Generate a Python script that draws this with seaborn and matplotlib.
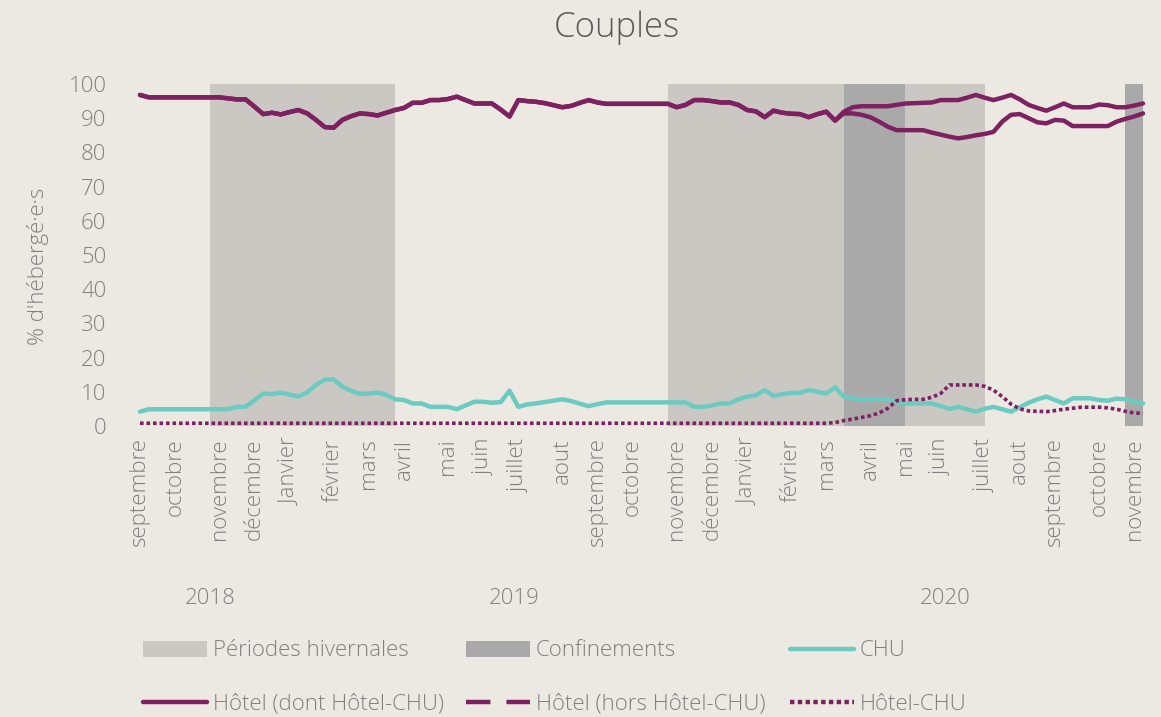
import matplotlib
matplotlib.use("Agg")
import numpy as np
import matplotlib.pyplot as plt
import seaborn as sns
from matplotlib.patches import Patch
from matplotlib.lines import Line2D
from matplotlib.transforms import blended_transform_factory

# ---------------- data (weekly points, Sept 2018 -> Nov 2020) ----------------
hotel_dont = [96.8, 96.1, 96.1, 96.1, 96.1, 96.1, 96.1, 96.1, 96.1, 96.1,
              95.8, 95.5, 95.5, 93.4, 91.2, 91.6, 91.1, 91.8, 92.4, 91.4,
              89.5, 87.4, 87.2, 89.5, 90.6, 91.4, 91.2, 90.8, 91.6, 92.4,
              93.0, 94.5, 94.5, 95.3, 95.3, 95.6, 96.3, 95.3, 94.3, 94.3,
              94.3, 92.5, 90.5, 95.3, 95.0, 94.8, 94.4, 93.8, 93.2, 93.6,
              94.5, 95.3, 94.6, 94.2, 94.2, 94.2, 94.2, 94.2, 94.2, 94.2,
              94.2, 93.2, 93.9, 95.3, 95.3, 95.0, 94.6, 94.6, 93.9, 92.4,
              92.0, 90.3, 92.2, 91.6, 91.3, 91.2, 90.3, 91.2, 91.9, 89.3,
              91.9, 93.2, 93.5, 93.5, 93.5, 93.5, 93.9, 94.3, 94.4, 94.5,
              94.6, 95.3, 95.3, 95.3, 96.0, 96.8, 96.0, 95.3, 96.0, 96.8,
              95.5, 93.9, 93.0, 92.2, 93.2, 94.3, 93.2, 93.2, 93.2, 94.0,
              93.8, 93.2, 93.2, 93.7, 94.3]

hotel_hors = [96.8, 96.1, 96.1, 96.1, 96.1, 96.1, 96.1, 96.1, 96.1, 96.1,
              95.8, 95.5, 95.5, 93.4, 91.2, 91.6, 91.1, 91.8, 92.4, 91.4,
              89.5, 87.4, 87.2, 89.5, 90.6, 91.4, 91.2, 90.8, 91.6, 92.4,
              93.0, 94.5, 94.5, 95.3, 95.3, 95.6, 96.3, 95.3, 94.3, 94.3,
              94.3, 92.5, 90.5, 95.3, 95.0, 94.8, 94.4, 93.8, 93.2, 93.6,
              94.5, 95.3, 94.6, 94.2, 94.2, 94.2, 94.2, 94.2, 94.2, 94.2,
              94.2, 93.2, 93.9, 95.3, 95.3, 95.0, 94.6, 94.6, 93.9, 92.4,
              92.0, 90.3, 92.2, 91.6, 91.3, 91.2, 90.3, 91.2, 91.9, 89.3,
              91.4, 91.4, 91.0, 90.3, 89.0, 87.5, 86.5, 86.5, 86.5, 86.5,
              85.8, 85.2, 84.6, 84.1, 84.5, 85.0, 85.4, 86.0, 89.0, 91.0,
              91.2, 90.0, 88.8, 88.5, 89.5, 89.3, 87.7, 87.7, 87.7, 87.7,
              87.7, 89.0, 89.8, 90.5, 91.4]

chu = [4.2, 4.9, 4.9, 4.9, 4.9, 4.9, 4.9, 4.9, 4.9, 4.9,
       4.9, 5.6, 5.6, 7.5, 9.5, 9.3, 9.8, 9.2, 8.6, 9.8,
       12.0, 13.6, 13.6, 11.5, 10.3, 9.4, 9.5, 9.8, 9.1, 7.8,
       7.6, 6.6, 6.6, 5.6, 5.6, 5.6, 4.9, 6.0, 7.1, 7.1,
       6.8, 7.0, 10.3, 5.6, 6.3, 6.6, 7.0, 7.4, 7.8, 7.3,
       6.5, 5.8, 6.4, 6.9, 6.9, 6.9, 6.9, 6.9, 6.9, 6.9,
       6.9, 6.9, 6.9, 5.6, 5.6, 6.0, 6.6, 6.6, 7.8, 8.6,
       9.0, 10.5, 8.8, 9.3, 9.7, 9.7, 10.5, 10.0, 9.5, 11.3,
       8.6, 8.0, 7.8, 7.8, 7.8, 7.8, 7.0, 6.6, 6.6, 6.6,
       6.6, 5.8, 5.0, 5.6, 4.9, 4.2, 5.0, 5.6, 4.9, 4.2,
       5.5, 6.8, 7.8, 8.6, 7.6, 6.6, 8.1, 8.1, 8.1, 7.6,
       7.4, 8.0, 7.8, 7.2, 6.6]

hotel_chu = [0.8, 0.8, 0.8, 0.8, 0.8, 0.8, 0.8, 0.8, 0.8, 0.8,
             0.8, 0.8, 0.8, 0.8, 0.8, 0.8, 0.8, 0.8, 0.8, 0.8,
             0.8, 0.8, 0.8, 0.8, 0.8, 0.8, 0.8, 0.8, 0.8, 0.8,
             0.8, 0.8, 0.8, 0.8, 0.8, 0.8, 0.8, 0.8, 0.8, 0.8,
             0.8, 0.8, 0.8, 0.8, 0.8, 0.8, 0.8, 0.8, 0.8, 0.8,
             0.8, 0.8, 0.8, 0.8, 0.8, 0.8, 0.8, 0.8, 0.8, 0.8,
             0.8, 0.8, 0.8, 0.8, 0.8, 0.8, 0.8, 0.8, 0.8, 0.8,
             0.8, 0.8, 0.8, 0.8, 0.8, 0.8, 0.8, 0.8, 0.8, 1.0,
             1.6, 2.0, 2.5, 3.0, 3.8, 5.2, 7.4, 7.7, 7.8, 7.8,
             8.4, 9.5, 12.0, 12.0, 12.0, 12.0, 11.6, 10.5, 8.6, 6.4,
             5.0, 4.4, 4.3, 4.2, 4.5, 4.9, 5.2, 5.5, 5.5, 5.5,
             5.3, 4.9, 4.3, 3.8, 3.7]

month_labels = ["septembre", "octobre", "novembre", "décembre", "Janvier", "février",
                "mars", "avril", "mai", "juin", "juillet", "aout", "septembre",
                "octobre", "novembre", "décembre", "Janvier", "février", "mars",
                "avril", "mai", "juin", "juillet", "aout", "septembre", "octobre",
                "novembre"]
month_weeks = [0, 4, 9, 13, 17, 22, 26, 30, 35, 39, 43, 48, 52, 56, 61, 65, 69,
               74, 78, 83, 87, 91, 96, 100, 104, 109, 113]

years = ["2018", "2019", "2020"]
year_start_weeks = [0, 17, 69]

winter_periods = [(8, 29), (60, 96)]
lockdowns = [(80, 87), (112, 114)]

# ---------------- style ----------------
BG = "#ECE8E2"
WINTER = "#CBC8C3"
LOCK = "#A9A9A9"
HOTEL = "#7E2160"
TEAL = "#6CCBC1"
GREY = "#808080"
TITLE = "#5A5A5A"

sns.set_theme(style="white")
plt.rcParams['font.family'] = ['Open Sans', 'DejaVu Sans']
plt.rcParams['font.weight'] = 'light'

FS = 16
W, H = 1161, 717
fig = plt.figure(figsize=(W / 100, H / 100), dpi=100, facecolor=BG)
ax = fig.add_axes([130 / W, 1 - 426 / H, (1150 - 130) / W, 342 / H])
ax.set_facecolor(BG)

for s, e in winter_periods:
    ax.axvspan(s, e, color=WINTER, lw=0, zorder=0)
for s, e in lockdowns:
    ax.axvspan(s, e, color=LOCK, lw=0, zorder=0.5)

weeks = np.arange(len(hotel_dont))
sns.lineplot(x=weeks, y=chu, ax=ax, color=TEAL, lw=3.2, zorder=3)
sns.lineplot(x=weeks, y=hotel_chu, ax=ax, color=HOTEL, lw=2.6,
             linestyle=(0, (1, 0.8)), zorder=4)
sns.lineplot(x=weeks, y=hotel_hors, ax=ax, color=HOTEL, lw=3.2, zorder=4)
sns.lineplot(x=weeks, y=hotel_dont, ax=ax, color=HOTEL, lw=3.2, zorder=4)

px_per_week = 8.8
ax.set_xlim(-10 / px_per_week, len(weeks) - 1 + 7 / px_per_week)
ax.set_ylim(0, 100)
ax.set_yticks(range(0, 101, 10))
ax.set_xticks(month_weeks)
ax.set_xticklabels(month_labels, rotation=90)
ax.tick_params(axis='y', length=0, pad=17, labelsize=FS, labelcolor=GREY)
ax.tick_params(axis='x', length=0, pad=9, labelsize=FS, labelcolor=GREY)
for sp in ax.spines.values():
    sp.set_visible(False)
ax.grid(False)
ax.set_xlabel("")
ax.set_ylabel("")

# year labels centred on each year's weeks
trans = blended_transform_factory(ax.transData, ax.transAxes)
bounds = year_start_weeks + [len(weeks)]
for k, yr in enumerate(years):
    xc = (bounds[k] + bounds[k + 1] - 1) / 2
    ax.text(xc, -0.503, yr, transform=trans, ha='center', va='center',
            fontsize=FS, color=GREY)

fig.text(38 / W, 1 - 266 / H, "% d'hébergé·e·s", rotation=90, ha='center',
         va='center', fontsize=FS, color=GREY)
fig.text(617 / W, 1 - 28 / H, "Couples", ha='center', va='center',
         fontsize=25, color=TITLE)

# legend: three columns, two rows
columns = [
    [(Patch(facecolor=WINTER, edgecolor='none'), "Périodes hivernales"),
     (Line2D([], [], color=HOTEL, lw=3.2), "Hôtel (dont Hôtel-CHU)")],
    [(Patch(facecolor=LOCK, edgecolor='none'), "Confinements"),
     (Line2D([], [], color=HOTEL, lw=3.2, linestyle=(0, (5.5, 3.6))), "Hôtel (hors Hôtel-CHU)")],
    [(Line2D([], [], color=TEAL, lw=3.2), "CHU"),
     (Line2D([], [], color=HOTEL, lw=3.2, linestyle=(0, (1, 0.75))), "Hôtel-CHU")],
]
col_x = [143, 466, 790]
for cx, col in zip(col_x, columns):
    hs, ls = zip(*col)
    fig.legend(hs, ls, loc='center left', bbox_to_anchor=(cx / W, 1 - 677.5 / H),
               frameon=False, fontsize=FS, labelcolor=GREY, borderpad=0,
               borderaxespad=0, handlelength=2.9, handleheight=0.72,
               handletextpad=0.25, labelspacing=1.45)

fig.savefig("out.png", dpi=100, facecolor=BG)
